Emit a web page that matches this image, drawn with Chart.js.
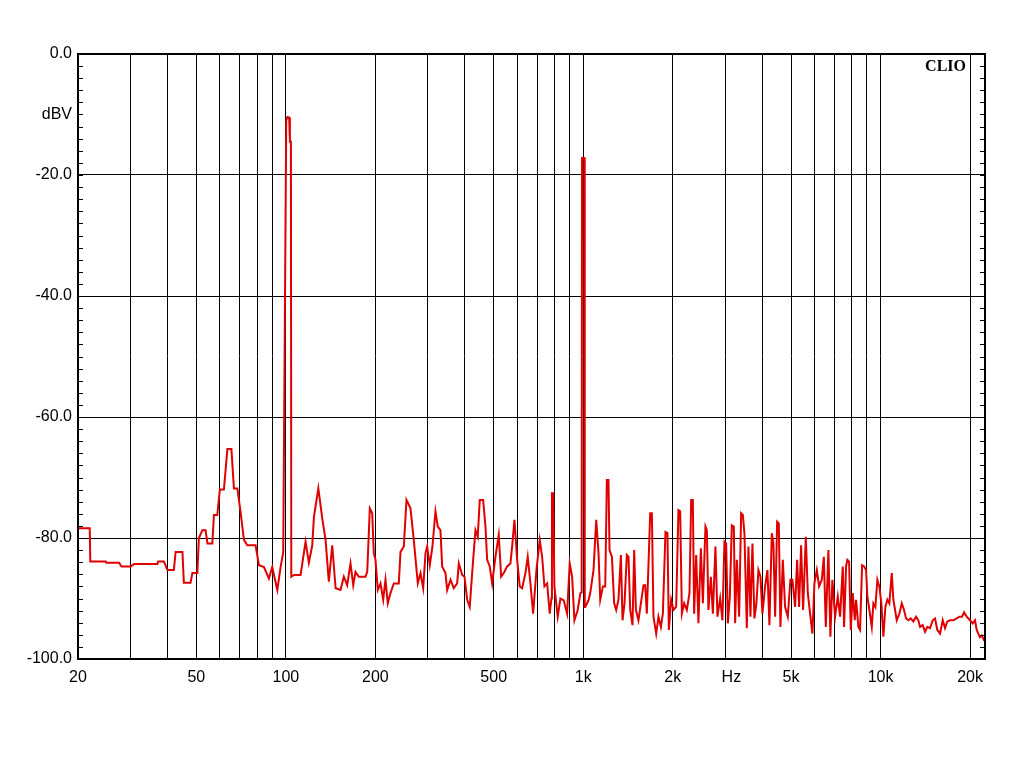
<!DOCTYPE html>
<html>
<head>
<meta charset="utf-8">
<title>CLIO FFT spectrum</title>
<script src="https://cdn.jsdelivr.net/npm/chart.js"></script>
<style>
  html, body { margin: 0; padding: 0; background: #fff; }
  #wrap { width: 1024px; height: 768px; position: relative; }
</style>
</head>
<body>
<div id="wrap"><canvas id="fftChart"></canvas></div>
<script>
// spectrum: frequency (Hz) and level (dBV)
const freqHz = [
  20, 21.9, 22.0, 24.8, 24.9, 27.5, 28.0, 30.1, 30.9, 37.0,
  37.2, 38.9, 40.0, 42.0, 42.6, 44.9, 45.4, 47.8, 48.5, 50.4,
  51.0, 52.4, 53.7, 54.5, 56.6, 57.3, 58.8, 60.0, 61.9, 63.6,
  65.6, 66.9, 68.7, 70.5, 72.3, 74.2, 79.1, 81.2, 84.4, 87.7,
  90.0, 93.6, 96.0, 98.0, 100.3, 101.2, 102.6, 103.2, 104.0, 104.3,
  106.5, 112.1, 116.5, 119.5, 122.7, 124.3, 128.6, 132.6, 136.0, 139.5,
  143.2, 147.0, 152.7, 156.7, 160.8, 165.0, 168.5, 171.5, 175.9, 185.3,
  187.8, 191.6, 195.2, 197.6, 200.2, 203.8, 208.1, 212.5, 216.3, 220.2,
  224.9, 230.7, 239.8, 243.0, 249.3, 254.5, 262.5, 269.3, 277.8, 283.7,
  289.6, 294.9, 298.7, 304.8, 311.2, 318.5, 324.3, 331.1, 335.5, 344.2,
  348.8, 357.8, 367.0, 376.8, 381.6, 391.7, 398.8, 407.2, 415.4, 423.2,
  434.1, 441.9, 448.9, 460.8, 469.1, 475.3, 485.0, 494.1, 506.8, 520.0,
  529.7, 540.5, 554.9, 569.2, 576.8, 587.2, 599.6, 611.7, 623.2, 639.3,
  650.8, 664.5, 678.6, 696.2, 714.2, 727.6, 740.6, 756.3, 771.6, 782,
  785, 793, 800, 820.9, 838.2, 860.0, 882.9, 900.8, 917.7, 934.2,
  958.3, 978.5, 988, 991, 1009, 1012, 1016, 1042, 1056, 1083,
  1106, 1126, 1141, 1165, 1186, 1201, 1216, 1226, 1249, 1271,
  1291, 1314, 1339, 1356, 1377, 1402, 1420, 1439, 1465, 1484,
  1504, 1534, 1563, 1595, 1616, 1637, 1680, 1702, 1723, 1760,
  1791, 1825, 1853, 1891, 1920, 1941, 1976, 2012, 2054, 2091,
  2119, 2147, 2185, 2231, 2277, 2307, 2337, 2361, 2398, 2441,
  2487, 2526, 2577, 2605, 2637, 2687, 2729, 2784, 2828, 2888,
  2939, 2985, 3025, 3065, 3112, 3161, 3210, 3243, 3286, 3345,
  3397, 3442, 3485, 3550, 3595, 3651, 3708, 3765, 3824, 3884,
  3945, 4006, 4090, 4164, 4229, 4308, 4362, 4420, 4489, 4548,
  4605, 4691, 4775, 4876, 4975, 5053, 5160, 5240, 5322, 5405,
  5489, 5605, 5693, 5795, 5899, 5991, 6104, 6213, 6345, 6444,
  6544, 6677, 6781, 6886, 7032, 7180, 7309, 7464, 7539, 7657,
  7734, 7837, 7940, 8064, 8190, 8273, 8422, 8533, 8666, 8801,
  8939, 9029, 9170, 9342, 9458, 9606, 9755, 9907, 10062, 10219,
  10379, 10540, 10705, 10906, 11042, 11188, 11336, 11566, 11783, 11995,
  12182, 12401, 12633, 12890, 13163, 13399, 13576, 13863, 14112, 14365,
  14669, 14978, 15247, 15521, 15849, 16184, 16474, 16770, 17124, 17568,
  18037, 18403, 18792, 19085, 19488, 19992, 20413, 20779, 21056, 21316,
  21600, 21887, 22281, 22450
];
const levelDb = [
  -78.4, -78.4, -83.9, -83.9, -84.1, -84.1, -84.7, -84.7, -84.3, -84.3,
  -83.9, -83.9, -85.3, -85.3, -82.3, -82.3, -87.4, -87.4, -85.8, -85.8,
  -80.0, -78.7, -78.7, -80.9, -80.9, -76.2, -76.2, -72.0, -72.0, -65.3,
  -65.3, -71.8, -71.8, -75.9, -80.3, -81.2, -81.2, -84.5, -84.8, -86.7,
  -84.8, -88.6, -84.8, -82.4, -11.0, -10.4, -10.5, -14.5, -14.5, -86.4,
  -86.1, -86.1, -80.6, -84.1, -81.2, -76.5, -71.8, -76.8, -80.3, -87.2,
  -81.2, -88.3, -88.6, -86.4, -87.8, -84.2, -87.8, -85.6, -86.4, -86.4,
  -85.6, -75.1, -75.9, -82.5, -83.6, -88.6, -87.5, -90.2, -86.9, -90.8,
  -89.1, -87.5, -87.5, -82.3, -81.4, -73.7, -75.1, -80.3, -87.5, -85.8,
  -88.3, -82.5, -81.4, -84.5, -81.4, -75.6, -78.1, -78.7, -84.7, -85.8,
  -88.6, -86.9, -88.3, -87.5, -84.2, -86.1, -86.4, -90.2, -91.4, -85.8,
  -78.7, -79.8, -73.7, -73.7, -78.1, -83.6, -84.7, -87.5, -83.1, -79.5,
  -86.4, -85.8, -84.7, -84.2, -81.4, -77.0, -83.6, -88.0, -88.3, -85.8,
  -83.1, -87.5, -92.5, -85.3, -80.3, -83.1, -88.0, -87.5, -92.5, -90.0,
  -72.6, -72.6, -88.0, -93.0, -90.0, -90.3, -92.5, -84.2, -86.4, -93.6,
  -91.9, -89.1, -89.0, -17.2, -17.2, -91.4, -91.4, -90.3, -89.1, -85.3,
  -77.0, -82.5, -90.2, -88.0, -88.0, -70.4, -70.4, -82.0, -83.1, -90.8,
  -91.9, -90.2, -82.8, -93.6, -90.8, -82.8, -83.1, -91.9, -94.4, -82.0,
  -91.9, -93.6, -90.8, -87.8, -87.8, -92.5, -75.9, -75.9, -93.0, -95.8,
  -93.0, -94.7, -92.5, -79.0, -79.2, -95.2, -90.2, -91.9, -91.4, -75.4,
  -75.6, -92.5, -90.8, -91.9, -89.1, -73.7, -73.7, -92.5, -82.8, -94.1,
  -81.7, -90.8, -78.1, -78.7, -91.9, -86.4, -92.5, -81.4, -93.0, -90.0,
  -93.6, -80.6, -80.9, -94.1, -89.7, -77.9, -78.1, -94.1, -83.6, -93.0,
  -75.9, -76.2, -79.2, -94.9, -81.4, -93.0, -80.9, -93.3, -90.8, -85.3,
  -86.4, -92.5, -88.0, -85.3, -94.4, -79.2, -80.9, -93.0, -77.3, -77.6,
  -94.7, -83.6, -91.4, -93.0, -86.9, -86.9, -91.4, -83.6, -91.4, -81.2,
  -91.9, -79.8, -89.1, -92.5, -95.8, -87.5, -85.3, -88.0, -86.9, -83.1,
  -94.7, -82.0, -96.3, -86.9, -93.0, -89.7, -93.0, -84.7, -94.7, -84.7,
  -83.6, -83.9, -95.2, -89.1, -93.6, -90.2, -94.7, -95.2, -84.5, -84.7,
  -85.3, -89.7, -91.9, -94.7, -90.8, -91.4, -86.9, -88.0, -90.8, -96.3,
  -91.4, -90.2, -90.8, -85.8, -90.2, -91.9, -93.6, -92.5, -90.8, -91.9,
  -93.3, -93.6, -93.3, -93.8, -93.0, -93.6, -94.7, -94.4, -95.5, -94.7,
  -94.9, -93.6, -93.3, -95.2, -95.8, -93.6, -94.9, -93.8, -93.6, -93.6,
  -93.3, -93.0, -93.0, -92.3, -93.0, -93.6, -94.1, -93.6, -95.2, -95.8,
  -96.4, -96.1, -96.9, -96.9
];

// axis ticks
const xTickValues = [20, 30, 40, 50, 60, 70, 80, 90, 100, 200, 300, 400, 500, 600, 700, 800, 900,
  1000, 2000, 3000, 3150, 4000, 5000, 6000, 7000, 8000, 9000, 10000, 20000];
const xTickLabels = { 20: "20", 50: "50", 100: "100", 200: "200", 500: "500", 1000: "1k",
  2000: "2k", 3150: "Hz", 5000: "5k", 10000: "10k", 20000: "20k" };
const yTickValues = [-100, -80, -60, -40, -20, -10, 0];
const yTickLabels = { "-100": "-100.0", "-80": "-80.0", "-60": "-60.0", "-40": "-40.0",
  "-20": "-20.0", "-10": "dBV", "0": "0.0" };
const unitOnlyTicks = [3150, -10]; // label only, no grid line

const FONT = "'Liberation Sans', Arial, sans-serif";

const framePlugin = {
  id: "frame",
  afterDraw(chart) {
    const { ctx, chartArea: a, scales } = chart;
    ctx.save();
    // minor ticks every 2 dB on the inner side of both vertical axes
    ctx.strokeStyle = "#000";
    ctx.lineWidth = 1;
    ctx.beginPath();
    for (let v = -98; v < 0; v += 2) {
      const y = Math.round(scales.y.getPixelForValue(v)) + 0.5;
      ctx.moveTo(a.left, y);
      ctx.lineTo(a.left + 5, y);
      ctx.moveTo(a.right - 5, y);
      ctx.lineTo(a.right, y);
    }
    ctx.stroke();
    // plot frame
    ctx.lineWidth = 2;
    ctx.strokeRect(a.left, a.top, a.right - a.left, a.bottom - a.top);
    // logo
    ctx.fillStyle = "#000";
    ctx.font = "bold 16px 'Liberation Serif', 'Times New Roman', serif";
    ctx.textAlign = "right";
    ctx.textBaseline = "middle";
    ctx.fillText("CLIO", a.right - 19, a.top + 13);
    ctx.restore();
  }
};

const points = freqHz.map((f, i) => ({ x: f, y: levelDb[i] }));

const gridColor = (c) =>
  c.tick && unitOnlyTicks.includes(c.tick.value) ? "rgba(0,0,0,0)" : "#000";

new Chart(document.getElementById("fftChart"), {
  type: "line",
  data: {
    datasets: [{
      data: points,
      borderColor: "#e00000",
      borderWidth: 2,
      pointRadius: 0,
      tension: 0,
      fill: false
    }]
  },
  options: {
    responsive: true,
    maintainAspectRatio: false,
    animation: false,
    layout: { padding: { top: 54, right: 39, left: 0, bottom: 0 } },
    plugins: { legend: { display: false }, tooltip: { enabled: false } },
    scales: {
      x: {
        type: "logarithmic",
        min: 20,
        max: 22450,
        afterBuildTicks: (s) => { s.ticks = xTickValues.map((v) => ({ value: v })); },
        afterFit: (s) => { s.height = 109; },
        border: { display: false },
        grid: { color: gridColor, lineWidth: 1, drawTicks: false },
        ticks: {
          autoSkip: false, maxRotation: 0, padding: 9, color: "#000",
          font: { family: FONT, size: 16 },
          callback: (v) => xTickLabels[v] || ""
        }
      },
      y: {
        min: -100,
        max: 0,
        afterBuildTicks: (s) => { s.ticks = yTickValues.map((v) => ({ value: v })); },
        afterFit: (s) => { s.width = 78; },
        border: { display: false },
        grid: { color: gridColor, lineWidth: 1, drawTicks: false },
        ticks: {
          padding: 6, color: "#000",
          font: { family: FONT, size: 16 },
          callback: (v) => yTickLabels[v] || ""
        }
      }
    }
  },
  plugins: [framePlugin]
});
</script>
</body>
</html>
